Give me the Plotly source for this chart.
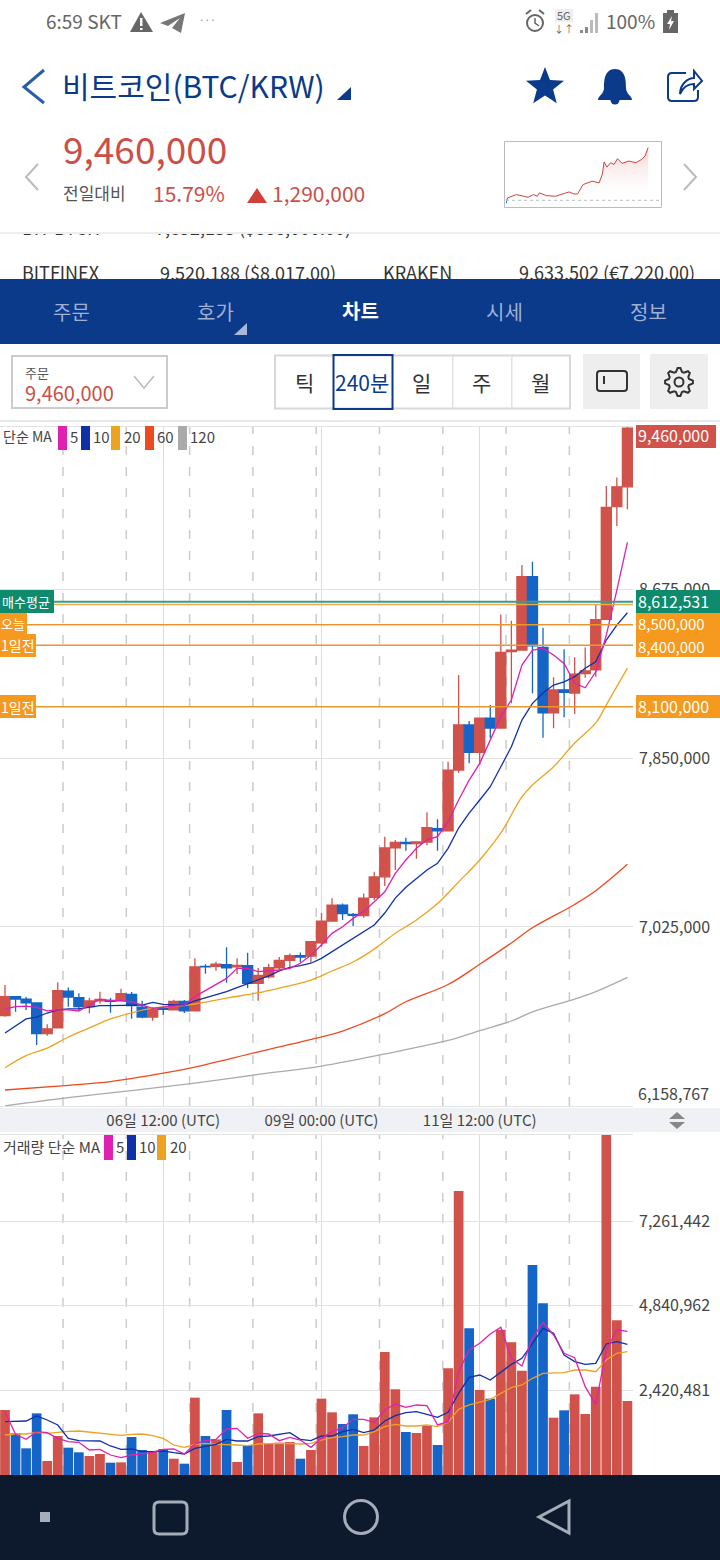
import numpy as np
import plotly.graph_objects as go

FONT = "Noto Sans CJK KR"
W, H = 720, 1560

# candles, thousands of KRW, one per 4 hours
opens = [6592, 6685, 6673, 6654, 6504, 6532, 6712, 6680, 6636, 6664, 6667, 6664, 6696, 6633, 6585, 6626, 6620, 6662, 6616, 6833,
         6833, 6841, 6830, 6836, 6750, 6782, 6826, 6862, 6885, 6883, 6948, 7054, 7132, 7087, 7080, 7170, 7270, 7411, 7438, 7432,
         7440, 7505, 7494, 7791, 8011, 7878, 8044, 7996, 8369, 8377, 8735, 8390, 8071, 8183, 8167, 8262, 8280, 8527, 9077, 9174]
highs = [6742, 6685, 6683, 6654, 6550, 6755, 6730, 6701, 6680, 6709, 6678, 6724, 6708, 6665, 6634, 6641, 6670, 6668, 6872, 6843,
         6855, 6926, 6872, 6899, 6825, 6846, 6878, 6896, 6901, 6953, 7093, 7165, 7140, 7093, 7189, 7295, 7466, 7450, 7461, 7440,
         7585, 7551, 7832, 8255, 8031, 8044, 8109, 8551, 8520, 8792, 8808, 8486, 8244, 8381, 8342, 8390, 8597, 9178, 9220, 9470]
lows = [6587, 6611, 6620, 6449, 6494, 6532, 6636, 6620, 6604, 6652, 6606, 6664, 6577, 6579, 6567, 6597, 6619, 6605, 6616, 6797,
        6811, 6753, 6795, 6727, 6665, 6774, 6815, 6831, 6853, 6853, 6929, 7051, 7059, 7030, 7070, 7157, 7225, 7303, 7397, 7358,
        7424, 7397, 7494, 7778, 7824, 7816, 7946, 7995, 8117, 8377, 8166, 7949, 7995, 8049, 8065, 8242, 8247, 8527, 8983, 9064]
closes = [6685, 6673, 6654, 6504, 6528, 6714, 6683, 6636, 6664, 6672, 6662, 6699, 6641, 6585, 6625, 6623, 6662, 6616, 6830, 6830,
          6843, 6826, 6838, 6750, 6789, 6826, 6862, 6885, 6878, 6953, 7053, 7132, 7090, 7082, 7166, 7269, 7411, 7438, 7432, 7440,
          7510, 7494, 7791, 8011, 7878, 8044, 7996, 8366, 8376, 8735, 8397, 8071, 8182, 8171, 8259, 8275, 8525, 9074, 9174, 9460]

ma5 = [6625, 6636, 6639, 6633, 6615, 6620, 6620, 6615, 6644, 6672, 6665, 6665, 6660, 6644, 6628, 6633, 6639, 6644, 6685, 6714,
       6742, 6774, 6823, 6823, 6807, 6810, 6815, 6823, 6848, 6888, 6937, 6994, 7026, 7067, 7100, 7148, 7197, 7287, 7352, 7409,
       7450, 7466, 7539, 7645, 7742, 7824, 7938, 8052, 8133, 8304, 8377, 8385, 8353, 8312, 8215, 8193, 8271, 8450, 8670, 8903]
ma10 = [6507, 6542, 6576, 6585, 6605, 6620, 6625, 6625, 6634, 6641, 6641, 6641, 6644, 6644, 6657, 6647, 6644, 6644, 6664, 6678,
        6693, 6709, 6729, 6747, 6766, 6786, 6811, 6828, 6836, 6848, 6872, 6904, 6937, 6970, 7002, 7035, 7093, 7166, 7219, 7263,
        7303, 7336, 7409, 7508, 7581, 7645, 7710, 7807, 7905, 8035, 8117, 8167, 8206, 8222, 8247, 8288, 8320, 8426, 8499, 8559]
ma20_idx = [0, 2, 4, 6, 8, 10, 12, 14, 16, 18, 21, 24, 26, 29, 31, 33, 35, 37, 39, 41, 43, 45, 47, 49, 50, 52, 54, 56, 57, 59]
ma20 = [6338, 6397, 6434, 6488, 6532, 6576, 6606, 6629, 6637, 6649, 6678, 6704, 6727, 6766, 6810, 6854, 6917, 6994, 7059, 7140,
        7245, 7352, 7484, 7660, 7718, 7807, 7923, 8021, 8109, 8289]
ma60_idx = [0, 6, 10, 15, 18, 24, 30, 32, 36, 38, 42, 45, 48, 50, 54, 56, 59]
ma60 = [6229, 6252, 6270, 6311, 6341, 6415, 6488, 6517, 6602, 6660, 6744, 6843, 6947, 7021, 7135, 7202, 7331]
ma120_idx = [0, 6, 12, 18, 24, 30, 36, 42, 45, 48, 50, 54, 56, 59]
ma120 = [6152, 6192, 6226, 6263, 6305, 6346, 6405, 6471, 6519, 6566, 6610, 6673, 6709, 6779]

# volume, thousands
volume = [1860, 1192, 763, 1764, 401, 1116, 782, 649, 544, 601, 353, 362, 1087, 715, 668, 744, 467, 324, 2213, 1116,
          1020, 1860, 372, 858, 1764, 887, 925, 944, 467, 715, 2184, 1793, 1459, 1736, 830, 1650, 3519, 2451, 1230, 1202,
          1411, 858, 3052, 8125, 4196, 2432, 2184, 4158, 3796, 2985, 6008, 4912, 1640, 1850, 2308, 1745, 2527, 9727, 4425, 2117]
vol_ma5 = [1812, 1163, 1020, 1240, 1211, 1049, 954, 935, 715, 734, 572, 496, 572, 620, 649, 734, 744, 601, 887, 982,
           1020, 1316, 1335, 1049, 1192, 1173, 982, 1078, 1001, 792, 1049, 1240, 1354, 1593, 1593, 1507, 1860, 2031, 1936, 2003,
           1984, 1431, 1526, 2956, 3576, 3767, 4034, 4225, 3338, 3119, 3910, 4368, 4006, 3481, 3357, 2527, 2022, 3576, 4149, 4110]
vol_ma10 = [1526, 1526, 1545, 1688, 1574, 1431, 1049, 982, 973, 973, 830, 734, 744, 668, 668, 687, 639, 601, 763, 830,
            877, 1020, 973, 973, 1097, 1116, 1163, 1211, 1020, 982, 1116, 1116, 1240, 1307, 1211, 1287, 1545, 1698, 1783, 1812,
            1736, 1650, 1793, 2337, 2794, 2861, 2718, 2937, 3166, 3338, 3767, 4196, 4053, 3433, 3243, 3166, 3195, 3748, 3815, 3738]
vol_ma20 = [1144, 1173, 1173, 1221, 1192, 1230, 1249, 1259, 1230, 1211, 1183, 1135, 1163, 1173, 1125, 1049, 858, 792, 877, 906,
            877, 877, 858, 839, 887, 896, 906, 906, 887, 906, 1001, 1068, 1097, 1144, 1144, 1240, 1383, 1450, 1402, 1402,
            1431, 1383, 1507, 1879, 2003, 2079, 2165, 2337, 2499, 2575, 2766, 2909, 2918, 2928, 3004, 3004, 2956, 3290, 3481, 3529]

price_ticks = [7025000, 7850000, 8675000]
price_labels = ["7,025,000", "7,850,000", "8,675,000"]
vol_ticks = [2420481, 4840962, 7261442]
vol_labels = ["2,420,481", "4,840,962", "7,261,442"]
date_ticks = [15, 30, 45]
date_labels = ["06일 12:00 (UTC)", "09일 00:00 (UTC)", "11일 12:00 (UTC)"]
day_breaks = [5.5, 11.5, 17.5, 23.5, 29.5, 35.5, 41.5, 47.5, 53.5]

# thumbnail line in the header
spark_t = [0, 1, 4, 7.4, 10.6, 15.5, 19.4, 22, 23.5, 28.4, 34.8, 39.7, 44.5, 47.7, 50.3, 54.2, 60.6, 65.5, 67.7, 69,
           71, 73.5, 76, 78.4, 81.6, 86.5, 91.3, 95.5, 97.7, 100]
spark_price = [8088, 8228, 8269, 8310, 8285, 8244, 8310, 8269, 8351, 8285, 8269, 8326, 8375, 8326, 8326, 8556, 8638, 8597, 8803, 9107,
               8983, 9090, 9049, 9189, 9074, 9131, 9090, 9172, 9254, 9460]
prev_close = 8170000

RED = "#d0524a"
BLUE = "#1565c8"
NAVY = "#0b3a8a"
ORANGE = "#f5991f"
GREEN = "#0e8a6d"
GRAY_TXT = "#444444"
MA_COLORS = {"5": "#e020b0", "10": "#1030a8", "20": "#eda320", "60": "#ee4a20", "120": "#aaaaaa"}

K = 1000
idx = list(range(len(closes)))
bar_colors = [RED if c >= o else BLUE for o, c in zip(opens, closes)]

fig = go.Figure()

fig.add_trace(go.Candlestick(
    x=idx, open=np.array(opens) * K, high=np.array(highs) * K, low=np.array(lows) * K, close=np.array(closes) * K,
    increasing=dict(line=dict(color=RED, width=1.3), fillcolor=RED),
    decreasing=dict(line=dict(color=BLUE, width=1.3), fillcolor=BLUE),
    whiskerwidth=0, xaxis="x", yaxis="y", hoverinfo="skip",
))
# the three long averages are read at fewer points, so they get a light spline
for name, xs, ys, shape in [("120", ma120_idx, ma120, "spline"), ("60", ma60_idx, ma60, "spline"), ("20", ma20_idx, ma20, "spline"),
                            ("10", idx, ma10, "linear"), ("5", idx, ma5, "linear")]:
    fig.add_trace(go.Scatter(x=xs, y=np.array(ys) * K, mode="lines", line=dict(color=MA_COLORS[name], width=1.3, shape=shape),
                             xaxis="x", yaxis="y", hoverinfo="skip"))

fig.add_trace(go.Bar(x=idx, y=np.array(volume) * K, marker=dict(color=bar_colors, line=dict(width=0)), width=0.92,
                     xaxis="x2", yaxis="y2", hoverinfo="skip"))
for name, ys in [("20", vol_ma20), ("10", vol_ma10), ("5", vol_ma5)]:
    fig.add_trace(go.Scatter(x=idx, y=np.array(ys) * K, mode="lines", line=dict(color=MA_COLORS[name], width=1.3),
                             xaxis="x2", yaxis="y2", hoverinfo="skip"))

# rows behind the tab bar are half hidden, so they go in as a trace under the shapes
row_x = [22, 155, 22, 160, 383, 519]
row_y = [230, 230, 275, 275, 275, 275]
row_text = ["BIT BTCH", "7,892,133 ($666,000.00)", "BITFINEX", "9,520,188 ($8,017.00)", "KRAKEN", "9,633,502 (€7,220.00)"]
fig.add_trace(go.Scatter(x=row_x, y=row_y, text=row_text, mode="text", textposition="middle right",
                         textfont=dict(family=FONT, size=18, color="#333333"), xaxis="x3", yaxis="y3", hoverinfo="skip"))

fig.add_trace(go.Scatter(x=spark_t[1:], y=np.array(spark_price[1:]) * K, mode="lines", line=dict(color="#c8463e", width=1),
                         fill="tozeroy", fillcolor="rgba(208,82,74,0.2)",
                         fillgradient=dict(type="vertical", colorscale=[[0, "rgba(255,255,255,0)"], [1, "rgba(208,82,74,0.28)"]],
                                           start=prev_close, stop=9460000),
                         xaxis="x4", yaxis="y4", hoverinfo="skip"))
fig.add_trace(go.Scatter(x=spark_t[:2], y=np.array(spark_price[:2]) * K, mode="lines", line=dict(color=BLUE, width=1),
                         xaxis="x4", yaxis="y4", hoverinfo="skip"))

shapes = []
notes = []


def rect(x0, y0, x1, y1, fill=None, line=None, w=1, layer="above"):
    shapes.append(dict(type="rect", xref="x3", yref="y3", x0=x0, y0=y0, x1=x1, y1=y1, layer=layer,
                       fillcolor=fill or "rgba(0,0,0,0)", line=dict(color=line or "rgba(0,0,0,0)", width=w if line else 0)))


def path(d, fill=None, line=None, w=1):
    shapes.append(dict(type="path", xref="x3", yref="y3", path=d, layer="above",
                       fillcolor=fill or "rgba(0,0,0,0)", line=dict(color=line or "rgba(0,0,0,0)", width=w if line else 0)))


def circle(cx, cy, r, fill=None, line=None, w=1):
    shapes.append(dict(type="circle", xref="x3", yref="y3", x0=cx - r, y0=cy - r, x1=cx + r, y1=cy + r, layer="above",
                       fillcolor=fill or "rgba(0,0,0,0)", line=dict(color=line or "rgba(0,0,0,0)", width=w if line else 0)))


def label(x, y, text, size=14, color=GRAY_TXT, anchor="left", yref="y3"):
    notes.append(dict(x=x, y=y, text=text, xref="x3", yref=yref, showarrow=False, xanchor=anchor, yanchor="middle",
                      font=dict(family=FONT, size=size, color=color), borderpad=0, borderwidth=0))


def star_path(cx, cy, r_out, r_in):
    pts = []
    for n in range(10):
        r = r_out if n % 2 == 0 else r_in
        a = -np.pi / 2 + n * np.pi / 5
        pts.append(f"{cx + r * np.cos(a):.1f} {cy + r * np.sin(a):.1f}")
    return "M " + " L ".join(pts) + " Z"


def gear_path(cx, cy, r_out, r_in, teeth=8):
    pts = []
    for n in range(teeth * 4):
        r = r_out if n % 4 in (0, 1) else r_in
        a = (n - 0.5) * 2 * np.pi / (teeth * 4)
        pts.append(f"{cx + r * np.cos(a):.1f} {cy + r * np.sin(a):.1f}")
    return "M " + " L ".join(pts) + " Z"


# header cover, status bar, title
rect(0, 212, W, 232, fill="white")
rect(0, 232, W, 234, fill="#eeeeee")
label(46, 20, "6:59 SKT", 19, "#666666")
path("M 141 12 L 153 32 L 130 32 Z", fill="#666666")
rect(140, 18, 142.5, 26, fill="white")
rect(140, 28, 142.5, 30, fill="white")
path("M 185 13 L 160 23 L 168 26 L 180 18 L 172 28 L 181 33 Z", fill="#777777")
label(207, 19, "···", 10, "#888888", "center")
circle(535, 23, 8, line="#666666", w=2)
path("M 535 18 L 535 23 L 539 26", line="#666666", w=1.5)
path("M 526 14 L 531 10 M 544 14 L 539 10", line="#666666", w=2)
rect(555, 9, 573, 22, fill="#eeeeee")
label(564, 15, "5G", 11, "#666666", "center")
label(564, 28, "↓↑", 10, "#666666", "center")
for k, (bx, by) in enumerate([(580, 30), (585, 27), (590, 20), (595, 13)]):
    rect(bx, by, bx + 3, 33, fill="#888888" if k < 2 else "#bbbbbb")
label(606, 20, "100%", 19, "#666666")
rect(663, 13, 678, 33, fill="#666666")
rect(667, 10, 674, 13, fill="#666666")
path("M 672 16 L 667 24 L 670 24 L 669 30 L 674 21 L 671 21 Z", fill="white")

path("M 44 70 L 24 87 L 44 103", line="#2a5fa8", w=3)
label(62, 85, "비트코인(BTC/KRW)", 30, NAVY)
path("M 351 87 L 351 100 L 337 100 Z", fill=NAVY)
path(star_path(545, 87, 20, 8.5), fill=NAVY)
path("M 615 69 C 604 69 604 82 604 88 C 604 94 598 96 598 100 L 632 100 C 632 96 626 94 626 88 C 626 82 626 69 615 69 Z", fill=NAVY)
circle(615, 100, 4.5, fill=NAVY)
path("M 686 73 L 672 73 Q 668 73 668 77 L 668 97 Q 668 101 672 101 L 694 101 Q 698 101 698 97 L 698 90", line=NAVY, w=2)
path("M 680 94 C 680 84 688 78 694 78 L 694 71 L 702 81 L 694 89 L 694 84 C 688 84 683 87 680 94 Z", line=NAVY, w=2)

# price block
label(63, 148, "9,460,000", 37, "#cc4f47")
label(63, 192, "전일대비", 17, "#555555")
label(153, 193, "15.79%", 21, "#cc4f47")
path("M 257 188 L 267 203 L 247 203 Z", fill="#d2403c")
label(272, 193, "1,290,000", 21, "#cc4f47")
path("M 38 164 L 26 177 L 38 190", line="#bbbbbb", w=2)
path("M 684 164 L 696 177 L 684 190", line="#bbbbbb", w=2)
rect(504.5, 141.5, 661.5, 207.5, line="#bbbbbb", w=1)

# tabs
rect(0, 279, W, 344, fill=NAVY)
for tx, tt in [(71, "주문"), (215, "호가"), (504, "시세"), (648, "정보")]:
    label(tx, 311, tt, 20, "#9fb0d3", "center")
label(360, 310, "<b>차트</b>", 20, "white", "center")
path("M 247 323 L 247 335 L 234 335 Z", fill="#a9b8d8")

# toolbar
rect(12, 356, 167, 408, line="#cccccc", w=2)
label(25, 372, "주문", 13, "#555555")
label(25, 392, "9,460,000", 20, "#cc4f47")
path("M 134 376 L 144 388 L 154 376", line="#bbbbbb", w=1.5)
rect(275, 355.5, 570, 408.5, line="#d8d8d8", w=2)
for sx in [452, 511]:
    rect(sx, 356, sx + 1.5, 408, fill="#e2e2e2")
rect(333.5, 355, 392.5, 409, line=NAVY, w=2)
for tx, tt, tc in [(304, "틱", "#333333"), (362, "240분", NAVY), (421, "일", "#333333"), (481, "주", "#333333"), (540, "월", "#333333")]:
    label(tx, 382, tt, 21, tc, "center")
rect(583, 354, 640, 409, fill="#eeeeee")
rect(650, 354, 708, 409, fill="#eeeeee")
path("M 600 371 L 624 371 Q 627 371 627 374 L 627 388 Q 627 391 624 391 L 600 391 Q 597 391 597 388 L 597 374 Q 597 371 600 371 Z", line="#333333", w=2)
rect(603, 376, 605, 384, fill="#333333")
path(gear_path(679, 382, 14, 10.5), line="#333333", w=2)
circle(679, 382, 4.5, line="#333333", w=2)
rect(0, 420, W, 422, fill="#e8e8e8")

# moving average legends
label(3, 436, "단순 MA", 14)
for sx, num, tx in [(58, "5", 70), (81, "10", 93), (111, "20", 124), (145, "60", 157), (178, "120", 190)]:
    rect(sx, 426, sx + 9, 450, fill=MA_COLORS[num])
    label(tx, 436, num, 15)
label(3, 1146, "거래량 단순 MA", 15)
for sx, num, tx in [(104, "5", 116), (127, "10", 139), (157, "20", 170)]:
    rect(sx, 1135, sx + 9, 1160, fill=MA_COLORS[num])
    label(tx, 1146, num, 15)

# price levels
level_values = [8600000, 8500000, 8400000, 8100000, 8612531]
level_colors = ["#eda94a", "#e8962e", "#e8962e", "#e8962e", "#3f9a8c"]
for lv, lc in zip(level_values, level_colors):
    shapes.append(dict(type="line", xref="x domain", yref="y", x0=0, x1=1, y0=lv, y1=lv, layer="above",
                       line=dict(color=lc, width=2 if lc == "#3f9a8c" else 1.5)))

rect(0, 590, 54, 613, fill=GREEN)
rect(0, 613, 27, 634, fill=ORANGE)
rect(0, 634, 36, 657, fill=ORANGE)
rect(0, 695, 36, 718, fill=ORANGE)
label(2, 601, "매수평균", 13, "white")
label(1, 623, "오늘", 13, "white")
label(1, 645, "1일전", 14, "white")
label(1, 707, "1일전", 14, "white")

rect(636, 425, 716, 448, fill=RED)
rect(636, 590, W, 613, fill=GREEN)
rect(636, 613, W, 657, fill=ORANGE)
rect(636, 695, W, 718, fill=ORANGE)
label(638, 435, "9,460,000", 16, "white")
label(638, 601, "8,612,531", 16, "white")
label(638, 623, "8,500,000", 15, "white")
label(638, 646, "8,400,000", 15, "white")
label(638, 706, "8,100,000", 16, "white")
label(638, 1093, "6,158,767", 16, GRAY_TXT)

# band under the price pane, drawn under the axis labels
shapes.append(dict(type="rect", xref="paper", yref="paper", x0=0, x1=1, y0=1 - 1132 / H, y1=1 - 1108 / H, layer="below",
                   fillcolor="#eff1f4", line=dict(width=0)))
path("M 669 1119 L 685 1119 L 677 1112 Z", fill="#888888")
path("M 669 1122 L 685 1122 L 677 1129 Z", fill="#888888")

# bottom navigation
rect(0, 1475, W, H, fill="#0d1a2d")
rect(40, 1512, 50, 1522, fill="#a5adb8")
path("M 159 1502 L 182 1502 Q 187 1502 187 1507 L 187 1529 Q 187 1534 182 1534 L 159 1534 Q 154 1534 154 1529 L 154 1507 Q 154 1502 159 1502 Z", line="#a5adb8", w=3)
circle(361, 1517, 16.5, line="#a5adb8", w=3)
path("M 569 1501 L 569 1533 L 539 1517 Z", line="#a5adb8", w=3)

# thumbnail baseline
shapes.append(dict(type="line", xref="x4", yref="y4", x0=0, x1=109, y0=prev_close, y1=prev_close, layer="above",
                   line=dict(color="#bbbbbb", width=1, dash="3px,3px")))

# dashed day separators in both panes
for b in day_breaks:
    for xr, yr in [("x", "y domain"), ("x2", "y2 domain")]:
        shapes.append(dict(type="line", xref=xr, yref=yr, x0=b, x1=b, y0=0, y1=1, layer="below",
                           line=dict(color="#cccccc", width=1.5, dash="9px,12px")))

x_range = [-0.474, 59.53]
x_domain = [0, 633 / W]
frame = "#e2e2e2"


def time_axis(**kw):
    return dict(domain=x_domain, range=x_range, tickmode="array", tickvals=date_ticks, showgrid=True, gridcolor="#dddddd", gridwidth=1,
                zeroline=False, showline=True, linecolor=frame, mirror=True, ticks="", fixedrange=True, **kw)


def value_axis(dom, rng, tickvals, ticktext, anchor):
    return dict(domain=dom, range=rng, side="right", anchor=anchor, tickmode="array", tickvals=tickvals, ticktext=ticktext,
                showgrid=True, gridcolor="#e2e2e2", gridwidth=1, zeroline=False, showline=False, ticks="", ticklabelstandoff=5,
                tickfont=dict(family=FONT, size=16, color=GRAY_TXT), fixedrange=True)


# the full-page overlay subplot would paint over the panes if plot_bgcolor were opaque
fig.update_layout(
    width=W, height=H, autosize=False, margin=dict(l=0, r=0, t=0, b=0), paper_bgcolor="white", plot_bgcolor="rgba(0,0,0,0)",
    showlegend=False, boxgap=0.05, boxgroupgap=0, bargap=0.08, hovermode=False, font=dict(family=FONT, color=GRAY_TXT),
    xaxis=time_axis(anchor="y", ticktext=date_labels, rangeslider=dict(visible=False), showticklabels=True,
                    tickfont=dict(family=FONT, size=15, color=GRAY_TXT), ticklabelstandoff=1),
    yaxis=value_axis([1 - 1106 / H, 1 - 427 / H], [6151000, 9466000], price_ticks, price_labels, "x"),
    xaxis2=time_axis(anchor="y2", showticklabels=False),
    yaxis2=value_axis([1 - 1475 / H, 1 - 1135 / H], [0, 9727000], vol_ticks, vol_labels, "x2"),
    xaxis3=dict(domain=[0, 1], range=[0, W], visible=False, anchor="y3", fixedrange=True),
    yaxis3=dict(domain=[0, 1], range=[H, 0], visible=False, anchor="x3", fixedrange=True),
    xaxis4=dict(domain=[506 / W, 661 / W], range=[0, 109], visible=False, anchor="y4", fixedrange=True),
    yaxis4=dict(domain=[1 - 205 / H, 1 - 143 / H], range=[8055000, 9573000], visible=False, anchor="x4", fixedrange=True),
    shapes=shapes, annotations=notes,
)

fig.write_html("out.html", config={"displayModeBar": False}, post_script="document.body.style.margin='0';")
